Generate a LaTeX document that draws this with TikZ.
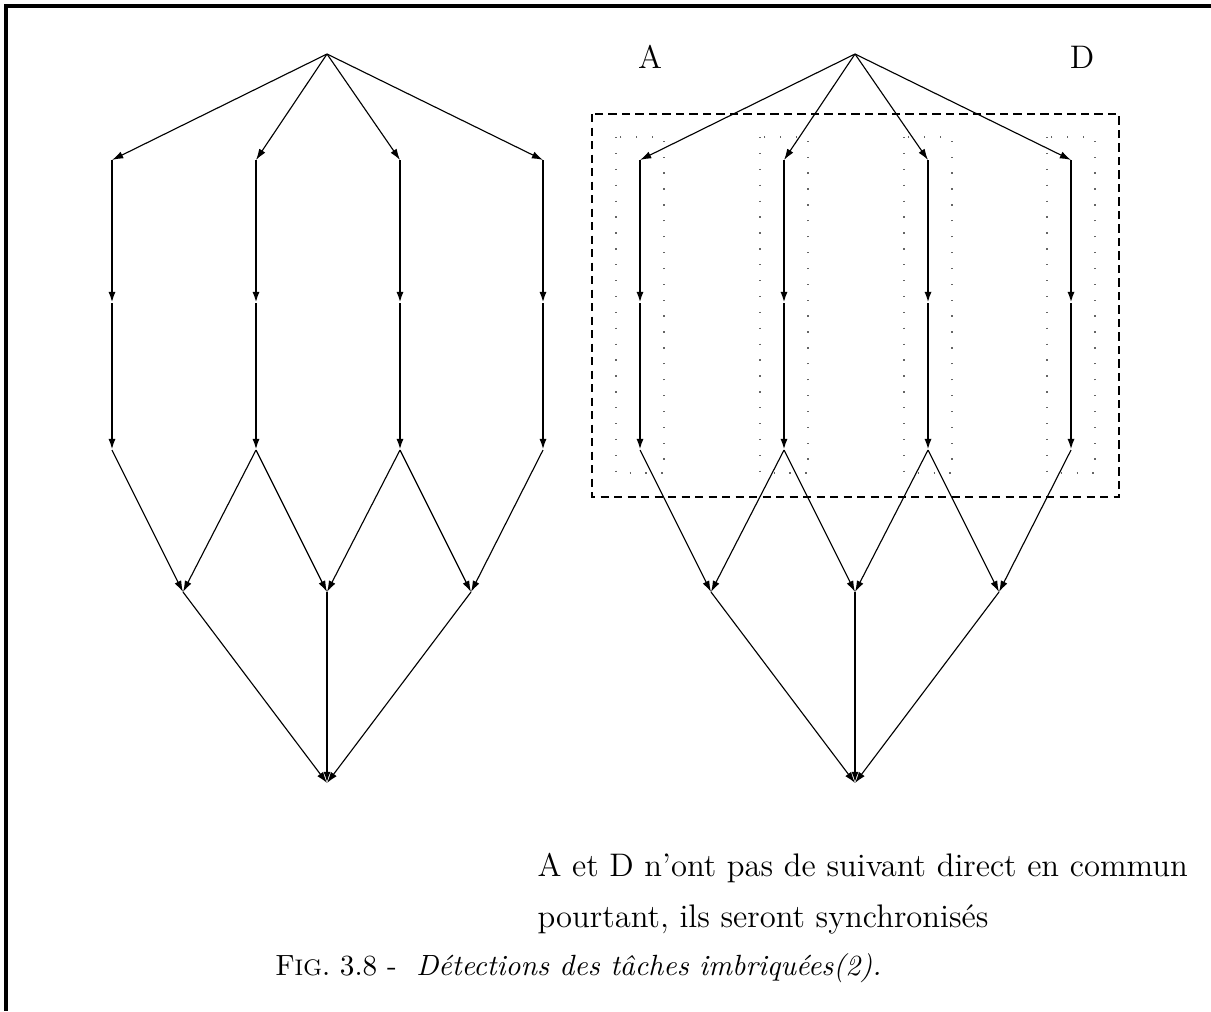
\documentclass[tikz,border=0pt]{standalone}
\usetikzlibrary{arrows.meta}
\tikzset{
  arr/.style={-{Latex[length=1.4mm,width=0.9mm]}},
  thinedge/.style={arr, line width=0.4pt},
  thickedge/.style={arr, line width=1pt},
  colbox/.style={line width=0.45pt, dash pattern=on 0.45pt off 5.2pt, black!60},
  groupbox/.style={line width=0.9pt, dash pattern=on 3pt off 1.8pt},
  frameline/.style={line width=1.2pt},
  lbl/.style={inner sep=0pt, font=\fontsize{11.6pt}{14pt}\selectfont}
}
\newcommand{\figsc}{F{\fontsize{8pt}{10pt}\selectfont IG}.}
\begin{document}
\begin{tikzpicture}[x=0.0125cm, y=-0.0125cm]
                \useasboundingbox (0,0) rectangle (1211,1011);
                % Frame
                \coordinate (fr) at (1211,6);
                \coordinate (fc) at (6,6);
                \coordinate (fb) at (6,1011);
                \draw[frameline] (fr) -- (fc) -- (fb);
                % Dotted columns around the right branches
                \foreach \x in {640,784,928,1071}
                    \draw[colbox] (\x-24,137) rectangle (\x+24,473);
                % Two task graphs
                \foreach \g/\dx in {L/0,R/528} {
                    \coordinate (\g top) at (327+\dx,54);
                    \coordinate (\g bot) at (327+\dx,783);
                    \foreach \k/\x in {1/112,2/256,3/400,4/543} {
                        \coordinate (\g a\k) at (\x+\dx,160);
                        \coordinate (\g m\k) at (\x+\dx,303);
                        \coordinate (\g b\k) at (\x+\dx,450);
                        \draw[thinedge] (\g top) -- (\g a\k);
                        \draw[thickedge] (\g a\k) -- (\g m\k);
                        \draw[thickedge] (\g m\k) -- (\g b\k);
                    }
                    \foreach \k/\x in {1/183,2/327,3/471}
                        \coordinate (\g c\k) at (\x+\dx,592);
                    \draw[thinedge] (\g b1) -- (\g c1);
                    \draw[thinedge] (\g b2) -- (\g c1);
                    \draw[thinedge] (\g b2) -- (\g c2);
                    \draw[thinedge] (\g b3) -- (\g c2);
                    \draw[thinedge] (\g b3) -- (\g c3);
                    \draw[thinedge] (\g b4) -- (\g c3);
                    \draw[thinedge] (\g c1) -- (\g bot);
                    \draw[thickedge] (\g c2) -- (\g bot);
                    \draw[thinedge] (\g c3) -- (\g bot);
                }
                % Dashed group
                \coordinate (gtl) at (592,114);
                \coordinate (gbr) at (1119,497);
                \draw[groupbox] (gtl) rectangle (gbr);
                % Labels
                \node[lbl] (labA) at (650,57) {A};
                \node[lbl] (labD) at (1082,57) {D};
                \node[lbl, anchor=base west] (note1) at (537,876) {A et D n'ont pas de suivant direct en commun};
                \node[lbl, anchor=base west] (note2) at (537,927) {pourtant, ils seront synchronisés};
                \node[lbl, anchor=base west, font=\fontsize{10.4pt}{14pt}\selectfont] (caption) at (275,975) {\figsc{} 3.8 - \ \textit{Détections des tâches imbriquées(2).}};
\end{tikzpicture}
\end{document}
